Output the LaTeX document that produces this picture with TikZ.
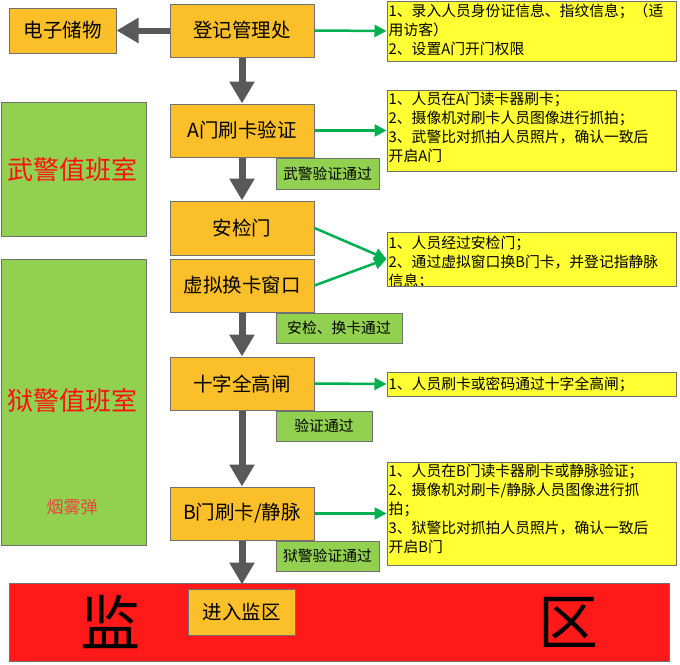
\documentclass[tikz,border=0pt]{standalone}
\usepackage{fontspec}
\setmainfont{Noto Sans CJK SC}
\usetikzlibrary{arrows.meta}
\definecolor{orng}{HTML}{FBBF2A}
\definecolor{bord}{HTML}{707070}
\definecolor{grn}{HTML}{92D050}
\definecolor{ylw}{HTML}{FFFF33}
\definecolor{redz}{HTML}{FF1919}
\definecolor{darkg}{HTML}{595959}
\definecolor{arrg}{HTML}{00B050}
\definecolor{redt}{HTML}{FF1010}
\definecolor{redl}{HTML}{F04040}
\tikzset{
 obox/.style={draw=bord, fill=orng, line width=1pt, minimum width=144pt, minimum height=53pt, inner sep=0pt, font=\fontsize{19.5}{23}\selectfont},
 ybox/.style={draw=bord, fill=ylw, line width=1pt, inner sep=0pt, minimum width=289pt},
 ytext/.style={anchor=north west, inner sep=0pt, align=left, font=\fontsize{14.8}{19}\selectfont},
 gbox/.style={draw=bord, fill=grn, line width=1pt, inner sep=0pt, font=\fontsize{14.8}{17}\selectfont},
 room/.style={draw=bord, fill=grn, line width=1pt, inner sep=0pt, minimum width=145pt},
 darr/.style={draw=darkg, line width=7pt, -{Triangle[length=22pt,width=24pt]}},
 garr/.style={draw=arrg, line width=2.5pt, -{Triangle[length=12pt,width=12pt]}},
}
\begin{document}
\begin{tikzpicture}[x=1pt,y=-1pt]
\useasboundingbox (0,0) rectangle (680,664);
% rooms
\node[room, minimum height=134pt] (wjroom) at (73.5,169) {};
\node[text=redt, font=\fontsize{26}{30}\selectfont, inner sep=0pt] (wjtxt) at (72,170) {武警值班室};
\node[room, minimum height=286pt] (yjroom) at (73.5,402) {};
\node[text=redt, font=\fontsize{26}{30}\selectfont, inner sep=0pt] (yjtxt) at (72,400) {狱警值班室};
\node[text=redl, font=\fontsize{17}{20}\selectfont, inner sep=0pt] (smoke) at (72,507) {烟雾弹};
% zone
\node[draw=bord, fill=redz, line width=1pt, minimum width=660pt, minimum height=78pt, inner sep=0pt] (zone) at (339,622) {};
\node[font=\fontsize{60}{64}\selectfont, inner sep=0pt] (jian) at (110,622) {监};
\node[font=\fontsize{60}{64}\selectfont, inner sep=0pt] (qu) at (568,622) {区};
% main boxes
\node[obox, minimum width=107pt, minimum height=45pt] (store) at (62.5,30.5) {电子储物};
\node[obox] (reg) at (242,30.5) {登记管理处};
\node[obox] (adoor) at (242,130.5) {A门刷卡验证};
\node[obox, minimum height=54pt] (sec) at (242,228) {安检门};
\node[obox] (vwin) at (242,285.5) {虚拟换卡窗口};
\node[obox] (cross) at (242,383.5) {十字全高闸};
\node[obox] (bdoor) at (242,513.5) {B门刷卡/静脉};
\node[obox, minimum width=107pt, minimum height=46pt] (enter) at (241.5,612) {进入监区};
% pass labels
\node[gbox, minimum width=103pt, minimum height=31pt] (wjpass) at (327.5,173.5) {武警验证通过};
\node[gbox, minimum width=126pt, minimum height=30pt] (sppass) at (339,328) {安检、换卡通过};
\node[gbox, minimum width=96pt, minimum height=30pt] (vpass) at (324,426) {验证通过};
\node[gbox, minimum width=103pt, minimum height=30pt] (yjpass) at (327.5,556) {狱警验证通过};
% info boxes
\node[ybox, minimum height=60pt] (info1) at (531.5,31) {};
\node[ytext] (t1) at ([xshift=2pt,yshift=-3pt]info1.north west) {1、录入人员身份证信息、指纹信息；（适\\用访客）\\2、设置A门开门权限};
\node[ybox, minimum height=81pt] (info2) at (531.5,130.5) {};
\node[ytext] (t2) at ([xshift=2pt,yshift=-2pt]info2.north west) {1、人员在A门读卡器刷卡；\\2、摄像机对刷卡人员图像进行抓拍；\\3、武警比对抓拍人员照片，确认一致后\\开启A门};
\node[ybox, minimum height=54pt] (info3) at (531.5,259) {};
\begin{scope}
\clip ([xshift=1pt,yshift=1pt]info3.south west) rectangle ([xshift=-1pt,yshift=-1pt]info3.north east);
\node[ytext] (t3) at ([xshift=2pt,yshift=-4pt]info3.north west) {1、人员经过安检门；\\2、通过虚拟窗口换B门卡，并登记指静脉\\信息；};
\end{scope}
\node[ybox, minimum height=24pt] (info4) at (531.5,384) {};
\node[ytext, anchor=west] (t4) at ([xshift=2pt]info4.west) {1、人员刷卡或密码通过十字全高闸；};
\node[ybox, minimum height=103pt] (info5) at (531.5,513.5) {};
\node[ytext] (t5) at ([xshift=2pt,yshift=-2pt]info5.north west) {1、人员在B门读卡器刷卡或静脉验证；\\2、摄像机对刷卡/静脉人员图像进行抓\\拍；\\3、狱警比对抓拍人员照片，确认一致后\\开启B门};
% dark arrows
\draw[darr, line width=6pt] (reg.west) -- (store.east);
\draw[darr] (reg.south) -- (adoor.north);
\draw[darr] (adoor.south) -- (sec.north);
\draw[darr] (vwin.south) -- (cross.north);
\draw[darr] (cross.south) -- (bdoor.north);
\draw[darr, shorten >=-2pt] (bdoor.south) -- (bdoor.south |- zone.north);
% green arrows
\draw[garr] (reg.east) -- (info1.west);
\draw[garr] (adoor.east) -- (info2.west);
\draw[garr] (sec.east) -- (info3.west);
\draw[garr] (vwin.east) -- (info3.west);
\draw[garr] (cross.east) -- (info4.west);
\draw[garr] (bdoor.east) -- (info5.west);
\end{tikzpicture}
\end{document}
